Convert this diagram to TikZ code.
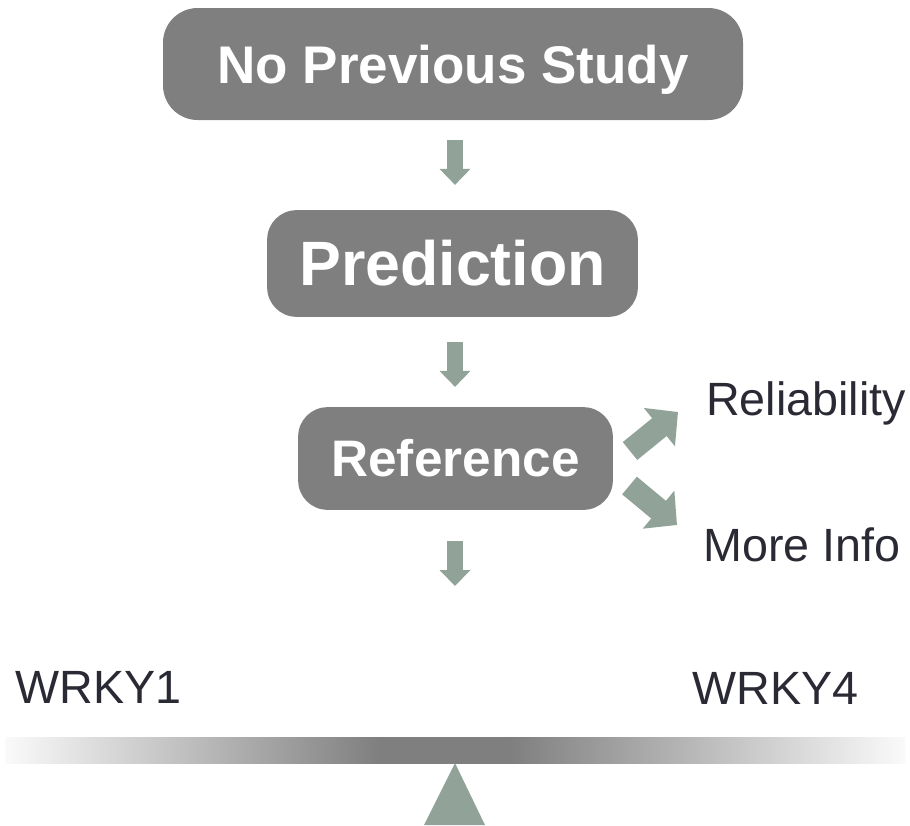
\documentclass[tikz,border=0pt]{standalone}
\usepackage{fontspec}
\setmainfont{Liberation Sans}
\usetikzlibrary{arrows.meta}
\definecolor{boxgray}{HTML}{7F7F7F}
\definecolor{arrowgreen}{HTML}{91A398}
\definecolor{ink}{HTML}{2A2A35}
\definecolor{edgewhite}{HTML}{FAFAFA}
\pgfdeclarehorizontalshading{beamshade}{100bp}{color(0bp)=(edgewhite); color(25bp)=(edgewhite); color(45.8bp)=(boxgray); color(53bp)=(boxgray); color(75bp)=(edgewhite); color(100bp)=(edgewhite)}
\begin{document}
\begin{tikzpicture}[x=0.75pt,y=-0.75pt,
  stagebox/.style={fill=boxgray, text=white, inner sep=0pt, text depth=0pt},
  sidelabel/.style={text=ink, inner sep=0pt, anchor=base west, font=\fontsize{35}{40}\selectfont},
  downarrow/.style={draw=arrowgreen, line width=12pt, -{Triangle[width=22.5pt,length=12pt]}},
  diagarrow/.style={draw=arrowgreen, line width=17.25pt, -{Triangle[width=36pt,length=18pt]}}]
\useasboundingbox (0,0) rectangle (910,825);
% stage boxes
\node[stagebox, rounded corners=26pt, minimum width=435pt, minimum height=84pt,
      text height=28.5pt, font=\bfseries\fontsize{39.75}{44}\selectfont] (nps) at (453,64) {No Previous Study};
\node[stagebox, rounded corners=22pt, minimum width=278pt, minimum height=80pt,
      text height=33.6pt, font=\bfseries\fontsize{47}{52}\selectfont] (pred) at (452.5,263.5) {Prediction};
\node[stagebox, rounded corners=22pt, minimum width=236pt, minimum height=77pt,
      text height=27.6pt, font=\bfseries\fontsize{38.5}{43}\selectfont] (ref) at (455.5,458.5) {Reference};
% side labels
\node[sidelabel] (rel) at (706,415) {Reliability};
\node[sidelabel] (info) at (703,561) {More Info};
\node[sidelabel] (w1) at (15,703) {WRKY1};
\node[sidelabel] (w4) at (692,704) {WRKY4};
% helper coordinates
\coordinate (axis) at (455,0);
\coordinate (down3end) at (455,586);
\coordinate (relstart) at (630,451);
\coordinate (relend) at (678,412);
\coordinate (infostart) at (629.5,485.5);
\coordinate (infoend) at (677,525);
% down arrows
\draw[downarrow, shorten <=15pt, shorten >=18.75pt] (nps.south -| axis) -- (pred.north -| axis);
\draw[downarrow, shorten <=18.75pt, shorten >=15pt] (pred.south -| axis) -- (ref.north -| axis);
\draw[downarrow, shorten <=23pt] (ref.south -| axis) -- (down3end);
% diagonal arrows
\draw[diagarrow] (relstart) -- (relend);
\draw[diagarrow] (infostart) -- (infoend);
% balance beam
\shade[shading=beamshade] (5,737) rectangle (905,763);
\fill[arrowgreen] (455,763) -- (485,825) -- (424,825) -- cycle;
\end{tikzpicture}
\end{document}
